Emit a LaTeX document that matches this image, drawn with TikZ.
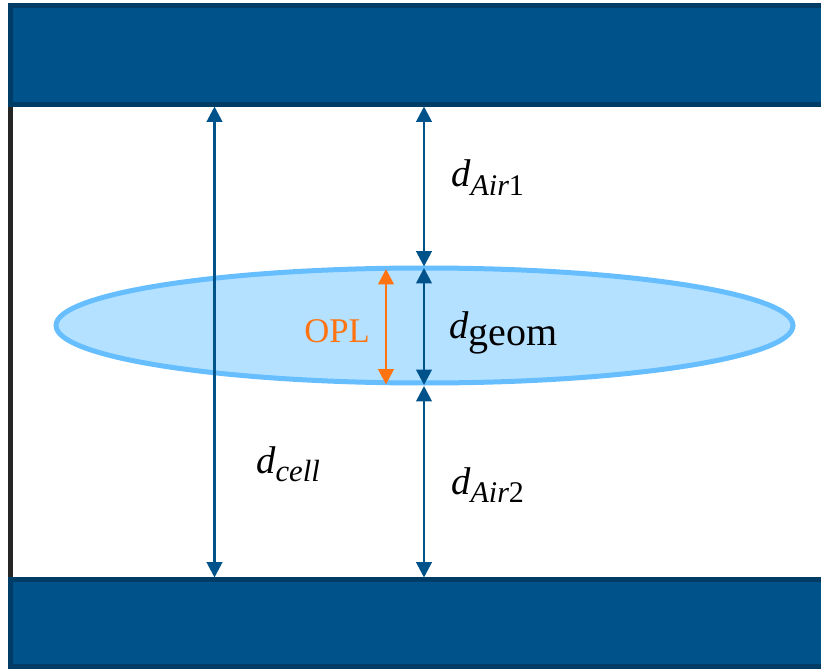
\documentclass[tikz,border=0pt]{standalone}
\usepackage{fontspec}
\setmainfont{Liberation Serif}
\usetikzlibrary{arrows.meta}
\definecolor{plate}{HTML}{00538A}
\definecolor{plateedge}{HTML}{003D66}
\definecolor{wall}{HTML}{262626}
\definecolor{dropfill}{HTML}{B4E1FF}
\definecolor{dropedge}{HTML}{66BEFF}
\definecolor{oplcol}{HTML}{FF7410}
\newcommand{\symd}{\fontsize{29}{29}\selectfont\itshape d}
\begin{document}
\begin{tikzpicture}[x=0.75pt,y=-0.75pt,
  platebox/.style={fill=plate,draw=plateedge,line width=3.75pt},
  dim/.style={draw=plate,line width=2.1pt,{Triangle[length=11.5pt,width=11.5pt]}-{Triangle[length=11.5pt,width=11.5pt]},shorten >=0pt,shorten <=0pt},
  opl/.style={dim,draw=oplcol},
  lab/.style={inner sep=0pt,anchor=base west}]
\useasboundingbox (0,0) rectangle (821,670);
\draw[wall,line width=3.75pt] (10.5,100) coordinate (wt) -- (10.5,582) coordinate (wb);
\draw[platebox] (830,5.5) -- (10.5,5.5) -- (10.5,104.5) -- (830,104.5);
\draw[platebox] (830,579.5) -- (10.5,579.5) -- (10.5,666.5) -- (830,666.5);
\path[draw=dropedge,fill=dropfill,line width=3.75pt] (424.5,325.5) ellipse [x radius=368.5,y radius=57.5];
\coordinate (t1) at (214.5,106.5); \coordinate (b1) at (214.5,577.5);
\coordinate (t2) at (424,106.5); \coordinate (m1) at (424,266.5);
\coordinate (m2) at (424,268); \coordinate (m3) at (424,385);
\coordinate (m4) at (424,386); \coordinate (b2) at (424,577.5);
\coordinate (o1) at (386,269); \coordinate (o2) at (386,384.5);
\draw[dim] (t1) -- (b1);
\draw[dim] (t2) -- (m1);
\draw[dim] (m2) -- (m3);
\draw[dim] (m4) -- (b2);
\draw[opl] (o1) -- (o2);
\node[lab] (air1) at (451,187) {\symd\fontsize{22.5}{22.5}\selectfont\raisebox{-6.5pt}{Air\upshape 1}};
\node[lab] (air2) at (451,494) {\symd\fontsize{22.5}{22.5}\selectfont\raisebox{-6.5pt}{Air\upshape 2}};
\node[lab] (geom) at (449,339) {\symd\fontsize{30}{30}\selectfont\raisebox{-5pt}{\upshape geom}};
\node[lab] (cell) at (256,473) {\symd\fontsize{23}{23}\selectfont\raisebox{-6.5pt}{cell}};
\node[lab,text=oplcol,font=\fontsize{26}{26}\selectfont] (opltext) at (304,343) {OPL};
\end{tikzpicture}
\end{document}
